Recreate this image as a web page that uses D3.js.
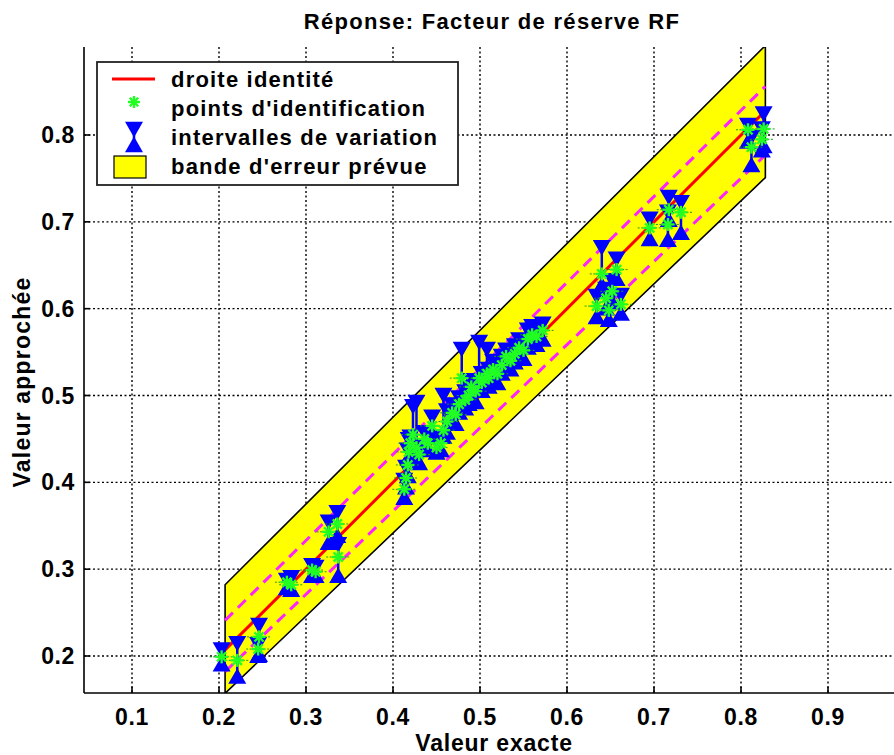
<!DOCTYPE html>
<html><head><meta charset="utf-8">
<script src="https://cdn.jsdelivr.net/npm/d3@7"></script>
<style>
html,body{margin:0;padding:0;background:#fff;}
svg text{font-family:"Liberation Sans",Arial,Helvetica,sans-serif;font-weight:bold;fill:#000;}
</style></head>
<body>
<svg id="chart" width="894" height="755"></svg>
<script>
// ---------- data ----------
const title = "Réponse: Facteur de réserve RF";
const xLabel = "Valeur exacte";
const yLabel = "Valeur approchée";
const xTicks = [0.1,0.2,0.3,0.4,0.5,0.6,0.7,0.8,0.9];
const yTicks = [0.2,0.3,0.4,0.5,0.6,0.7,0.8];
const legendLabels = ["droite identité","points d'identification","intervalles de variation","bande d'erreur prévue"];

// identity line / band / dashed lines (x extent and y values)
const lineX = [0.207, 0.828];
const identityY = [0.207, 0.828];
const bandUpper = [0.282, 0.903];
const bandLower = [0.157, 0.751];
const dashUpper = [0.241, 0.856];
const dashLower = [0.182, 0.777];

// points: exact value, approximated value, interval low, interval high
const exact  = [0.203,0.221,0.246,0.245,0.283,0.278,0.307,0.311,0.326,0.336,0.337,
  0.413,0.415,0.417,0.418,0.420,0.423,0.427,0.430,0.436,0.440,0.445,0.450,0.455,0.458,0.462,0.468,0.472,0.476,0.479,0.483,0.487,0.490,0.495,0.499,0.502,0.508,0.510,0.515,0.520,0.525,0.530,0.535,0.540,0.545,0.550,0.555,0.560,0.565,0.572,
  0.634,0.640,0.645,0.648,0.652,0.657,0.662,
  0.695,0.717,0.716,0.731,
  0.808,0.812,0.826,0.824];
const approx = [0.199,0.195,0.222,0.208,0.282,0.285,0.299,0.297,0.343,0.352,0.314,
  0.392,0.405,0.420,0.435,0.445,0.455,0.440,0.432,0.450,0.445,0.465,0.440,0.445,0.460,0.470,0.480,0.478,0.490,0.520,0.495,0.500,0.510,0.505,0.520,0.515,0.525,0.520,0.530,0.525,0.535,0.545,0.540,0.548,0.555,0.552,0.565,0.570,0.568,0.575,
  0.603,0.640,0.612,0.598,0.620,0.645,0.605,
  0.693,0.714,0.697,0.711,
  0.806,0.786,0.807,0.795];
const lowVal = [0.188,0.174,0.199,0.198,0.274,0.276,0.290,0.290,0.328,0.336,0.290,
  0.380,0.392,0.405,0.425,0.430,0.440,0.425,0.420,0.440,0.435,0.450,0.432,0.435,0.450,0.455,0.468,0.465,0.478,0.500,0.483,0.488,0.497,0.490,0.505,0.503,0.512,0.508,0.518,0.512,0.523,0.532,0.528,0.536,0.542,0.540,0.553,0.558,0.556,0.562,
  0.588,0.625,0.598,0.585,0.605,0.632,0.592,
  0.678,0.700,0.677,0.685,
  0.790,0.763,0.785,0.780];
const highVal = [0.210,0.217,0.238,0.216,0.293,0.290,0.307,0.305,0.357,0.368,0.331,
  0.405,0.420,0.440,0.452,0.455,0.490,0.495,0.445,0.460,0.455,0.478,0.450,0.455,0.503,0.485,0.492,0.490,0.500,0.556,0.507,0.512,0.520,0.520,0.564,0.528,0.556,0.533,0.542,0.538,0.548,0.555,0.553,0.560,0.567,0.565,0.578,0.582,0.580,0.585,
  0.617,0.673,0.625,0.612,0.635,0.660,0.618,
  0.706,0.731,0.714,0.725,
  0.814,0.800,0.827,0.810];

// ---------- chart ----------
const svg = d3.select("#chart");
const L = 84, R = 900, T = 47, B = 693;
const x = d3.scaleLinear().domain([0.1, 0.9]).range([132, 828]);
const y = d3.scaleLinear().domain([0.2, 0.8]).range([656, 135]);

svg.append("defs").append("clipPath").attr("id","clip")
  .append("rect").attr("x",L).attr("y",T).attr("width",R-L).attr("height",B-T);

// grid
const grid = svg.append("g").attr("stroke","#000").attr("stroke-width",1.4).attr("stroke-dasharray","2,2.5");
grid.selectAll("line.vx").data(xTicks).join("line").attr("class","vx")
  .attr("x1",d=>x(d)).attr("x2",d=>x(d)).attr("y1",T).attr("y2",B);
grid.selectAll("line.hy").data(yTicks).join("line").attr("class","hy")
  .attr("y1",d=>y(d)).attr("y2",d=>y(d)).attr("x1",L).attr("x2",R);

const plot = svg.append("g").attr("clip-path","url(#clip)");

// band
const bandPts = [[lineX[0],bandUpper[0]],[lineX[1],bandUpper[1]],[lineX[1],bandLower[1]],[lineX[0],bandLower[0]]];
plot.append("path")
  .attr("d", d3.line().x(d=>x(d[0])).y(d=>y(d[1]))(bandPts)+"Z")
  .attr("fill","#ffff00").attr("stroke","#000").attr("stroke-width",1.6).attr("stroke-linejoin","miter");

// dashed lines
const ln = d3.line().x(d=>x(d[0])).y(d=>y(d[1]));
[dashUpper, dashLower].forEach(arr=>{
  plot.append("path").attr("d", ln(lineX.map((v,i)=>[v,arr[i]])))
    .attr("fill","none").attr("stroke","#ff22ff").attr("stroke-width",3).attr("stroke-dasharray","11,7");
});
// identity
plot.append("path").attr("d", ln(lineX.map((v,i)=>[v,identityY[i]])))
  .attr("fill","none").attr("stroke","#ff0000").attr("stroke-width",3);

// intervals
const pts = exact.map((v,i)=>({x:v, y:approx[i], lo:lowVal[i], hi:highVal[i]}));
const tri = d3.symbol().type(d3.symbolTriangle).size(140);
const ig = plot.append("g");
ig.selectAll("line").data(pts).join("line")
  .attr("x1",d=>x(d.x)).attr("x2",d=>x(d.x)).attr("y1",d=>y(d.lo)).attr("y2",d=>y(d.hi))
  .attr("stroke","#0000ff").attr("stroke-width",2.5);
ig.selectAll("path.up").data(pts).join("path").attr("class","up")
  .attr("d",tri).attr("transform",d=>`translate(${x(d.x)},${y(d.lo)})`).attr("fill","#0000ff");
ig.selectAll("path.dn").data(pts).join("path").attr("class","dn")
  .attr("d",tri).attr("transform",d=>`translate(${x(d.x)},${y(d.hi)}) rotate(180)`).attr("fill","#0000ff");

// stars
function star(g, cx, cy, r){
  const s = g.append("g").attr("transform",`translate(${cx},${cy})`)
    .attr("stroke","#22ff22").attr("stroke-width",2.4);
  for(let k=0;k<4;k++){
    const a = k*Math.PI/4;
    s.append("line").attr("x1",-r*Math.cos(a)).attr("y1",-r*Math.sin(a)).attr("x2",r*Math.cos(a)).attr("y2",r*Math.sin(a));
  }
}
const sg = plot.append("g");
sg.selectAll("line").data(pts).join("line")
  .attr("x1",d=>x(d.x)-12).attr("x2",d=>x(d.x)+12).attr("y1",d=>y(d.y)).attr("y2",d=>y(d.y))
  .attr("stroke","#229922").attr("stroke-width",1).attr("stroke-dasharray","2,1.5");
pts.forEach(d=>star(sg, x(d.x), y(d.y), 6.5));

// axes
const ax = svg.append("g");
ax.append("line").attr("x1",L).attr("x2",R).attr("y1",B).attr("y2",B).attr("stroke","#000").attr("stroke-width",1.6);
ax.append("line").attr("x1",L).attr("x2",L).attr("y1",T).attr("y2",B).attr("stroke","#000").attr("stroke-width",1.6);
ax.selectAll("line.xt").data(xTicks).join("line").attr("class","xt")
  .attr("x1",d=>x(d)).attr("x2",d=>x(d)).attr("y1",B).attr("y2",B-6).attr("stroke","#000").attr("stroke-width",1.6);
ax.selectAll("line.yt").data(yTicks).join("line").attr("class","yt")
  .attr("y1",d=>y(d)).attr("y2",d=>y(d)).attr("x1",L).attr("x2",L+6).attr("stroke","#000").attr("stroke-width",1.6);
ax.selectAll("text.xl").data(xTicks).join("text").attr("class","xl")
  .attr("x",d=>x(d)).attr("y",B+32).attr("text-anchor","middle").attr("font-size",23).attr("letter-spacing",0.6)
  .text(d=>d3.format(".1f")(d));
ax.selectAll("text.yl").data(yTicks).join("text").attr("class","yl")
  .attr("x",L-9).attr("y",d=>y(d)+8).attr("text-anchor","end").attr("font-size",23).attr("letter-spacing",0.6)
  .text(d=>d3.format(".1f")(d));

svg.append("text").attr("x",492).attr("y",29).attr("text-anchor","middle").attr("font-size",22).attr("letter-spacing",1.3).text(title);
svg.append("text").attr("x",494).attr("y",751).attr("text-anchor","middle").attr("font-size",23).attr("letter-spacing",0.8).text(xLabel);
svg.append("text").attr("transform","translate(30,382) rotate(-90)").attr("text-anchor","middle").attr("font-size",23).attr("letter-spacing",1.2).text(yLabel);

// legend
const lg = svg.append("g");
lg.append("rect").attr("x",97).attr("y",62).attr("width",361).attr("height",123)
  .attr("fill","#fff").attr("stroke","#222").attr("stroke-width",1.8);
const rowY = [79,108,137,166];
lg.append("line").attr("x1",112).attr("x2",155).attr("y1",rowY[0]).attr("y2",rowY[0]).attr("stroke","#ff0000").attr("stroke-width",3);
star(lg, 134, rowY[1]-6, 6);
lg.append("line").attr("x1",134).attr("x2",134).attr("y1",rowY[2]-12).attr("y2",rowY[2]+12).attr("stroke","#0000ff").attr("stroke-width",2.5);
lg.append("path").attr("d",tri).attr("transform",`translate(134,${rowY[2]+10})`).attr("fill","#0000ff");
lg.append("path").attr("d",tri).attr("transform",`translate(134,${rowY[2]-10}) rotate(180)`).attr("fill","#0000ff");
lg.append("rect").attr("x",114).attr("y",rowY[3]-10).attr("width",32).attr("height",22).attr("fill","#ffff00").attr("stroke","#000").attr("stroke-width",1.2);
lg.selectAll("text").data(legendLabels).join("text")
  .attr("x",171).attr("y",(d,i)=>rowY[i]+8).attr("font-size",22).attr("letter-spacing",1.2).text(d=>d);
</script>
</body></html>
